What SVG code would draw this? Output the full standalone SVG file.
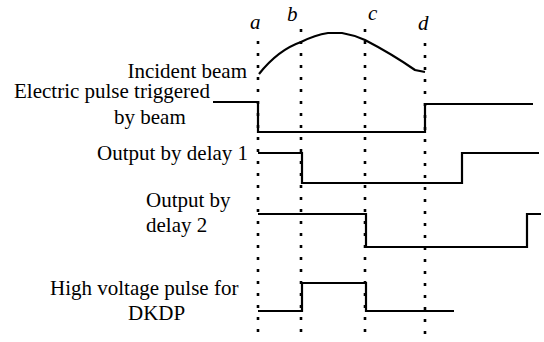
<svg xmlns="http://www.w3.org/2000/svg" width="544" height="342" viewBox="0 0 544 342">
<style>
.t{font-family:'Liberation Serif',serif;font-size:21px;fill:#000}
.l{font-family:'Liberation Serif',serif;font-size:21px;font-style:italic;fill:#000}
.dot{stroke:#000;stroke-width:2.6;stroke-dasharray:3 9;fill:none}
.sig{stroke:#000;stroke-width:2.2;fill:none}
</style>
<rect width="544" height="342" fill="#fff"/>
<g id="markers">
<line class="dot" x1="258" y1="41" x2="258" y2="340"/>
<line class="dot" x1="301" y1="29" x2="301" y2="336"/>
<line class="dot" x1="365" y1="29" x2="365" y2="336"/>
<line class="dot" x1="425" y1="43" x2="425" y2="340"/>
<text class="l" x="250" y="29">a</text>
<text class="l" x="287" y="21">b</text>
<text class="l" x="368" y="20">c</text>
<text class="l" x="418" y="30">d</text>
</g>
<g id="connectors">
<path id="incident" class="sig" d="M259,74 Q278,50 301,42 Q315,35 328,33 L342,33 Q354,35 365,40 Q392,54 415,70 L425,72"/>
<path id="electric" class="sig" d="M213,102 H258 V132 H425 V104 H533"/>
<path id="delay1" class="sig" d="M258,153 H302 V183 H462 V153 H539"/>
<path id="delay2" class="sig" d="M258,214 H366 V247 H527 V214 H541"/>
<path id="hv" class="sig" d="M258,311 H302 V283 H366 V311 H454"/>
</g>
<g id="labels">
<text class="t" x="247" y="78" text-anchor="end">Incident beam</text>
<text class="t" x="14" y="98">Electric pulse triggered</text>
<text class="t" x="114" y="124">by beam</text>
<text class="t" x="97" y="160">Output by delay 1</text>
<text class="t" x="146" y="207">Output by</text>
<text class="t" x="146" y="232">delay 2</text>
<text class="t" x="50" y="295">High voltage pulse for</text>
<text class="t" x="128" y="320">DKDP</text>
</g>
</svg>
